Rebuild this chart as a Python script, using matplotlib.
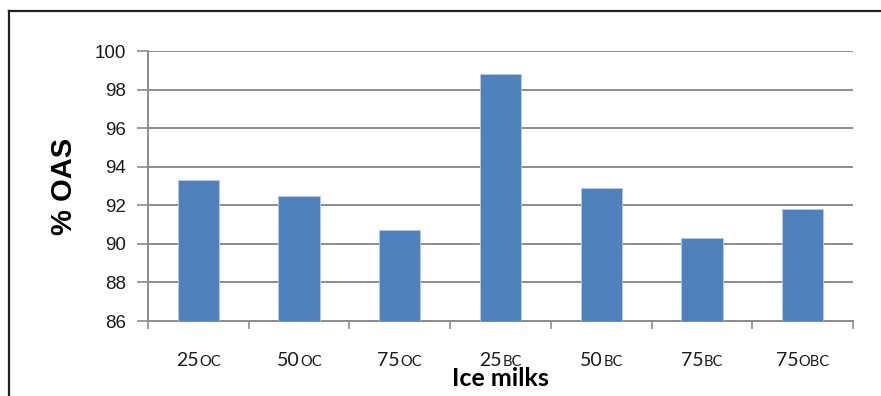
import matplotlib.pyplot as plt
from matplotlib.lines import Line2D
from matplotlib.transforms import ScaledTranslation
import numpy as np

# % OAS for each ice milk sample
numbers = ["25", "50", "75", "25", "50", "75", "75"]
suffixes = ["OC", "OC", "OC", "BC", "BC", "BC", "OBC"]
oas = [93.3, 92.5, 90.7, 98.8, 92.9, 90.3, 91.8]
yticks = [86, 88, 90, 92, 94, 96, 98, 100]

fig = plt.figure(figsize=(8.81, 3.96), dpi=100)
ax = fig.add_axes([148 / 881, 1 - 321 / 396, 705 / 881, 270 / 396])

x = np.arange(len(oas))
ax.bar(x, oas, width=0.41, color="#4f81bd", edgecolor="#b8cce4", linewidth=0.6,
       zorder=3)
ax.set_ylim(86, 100)
ax.set_xlim(-0.5, len(oas) - 0.5)
ax.set_yticks(yticks)
ax.set_yticklabels([str(v) for v in yticks], fontsize=13.5,
                   family="Liberation Sans", color="#1a1a1a")
ax.yaxis.grid(True, color="#8c8c8c", linewidth=1.4, zorder=0)
ax.set_axisbelow(True)

# category boundaries carry the x ticks, labels are drawn separately
ax.set_xticks(np.arange(-0.5, len(oas), 1.0))
ax.set_xticklabels([])
ax.tick_params(axis="x", length=6, width=1.2, color="#8c8c8c", direction="out")
ax.tick_params(axis="y", length=8, width=1.2, color="#8c8c8c", pad=8)

for s in ["top", "right"]:
    ax.spines[s].set_visible(False)
for s in ["left", "bottom"]:
    ax.spines[s].set_color("#8c8c8c")
    ax.spines[s].set_linewidth(1.4)

# two-size labels: number plus small-caps style suffix on a shared baseline
fig.canvas.draw()
renderer = fig.canvas.get_renderer()
trans = ax.get_xaxis_transform()
label_y = -0.165
for i, (n, s) in enumerate(zip(numbers, suffixes)):
    t1 = ax.text(i, label_y, n, transform=trans, fontsize=14, family="Lato",
                 color="#1a1a1a", ha="left", va="baseline")
    t2 = ax.text(i, label_y, s, transform=trans, fontsize=10.5, family="Lato",
                 color="#1a1a1a", ha="left", va="baseline")
    w1 = t1.get_window_extent(renderer).width
    w2 = t2.get_window_extent(renderer).width
    gap = 0.5
    start = -(w1 + w2 + gap) / 2
    t1.set_transform(trans + ScaledTranslation(start / fig.dpi, 0,
                                               fig.dpi_scale_trans))
    t2.set_transform(trans + ScaledTranslation((start + w1 + gap) / fig.dpi, 0,
                                               fig.dpi_scale_trans))

ax.set_ylabel("% OAS", fontsize=21, fontweight="bold", family="Liberation Sans",
              labelpad=12)
fig.text(500 / 881, 1 - 379 / 396, "Ice milks", fontsize=18, fontweight="bold",
         family="Lato", ha="center", va="center")

# frame around the chart area
fig.add_artist(Line2D([9 / 881, 9 / 881], [0, 1 - 11 / 396], color="#222222",
                      linewidth=1.6, transform=fig.transFigure))
fig.add_artist(Line2D([9 / 881, 1], [1 - 11 / 396, 1 - 11 / 396], color="#222222",
                      linewidth=1.6, transform=fig.transFigure))

fig.savefig("out.png", dpi=100)
